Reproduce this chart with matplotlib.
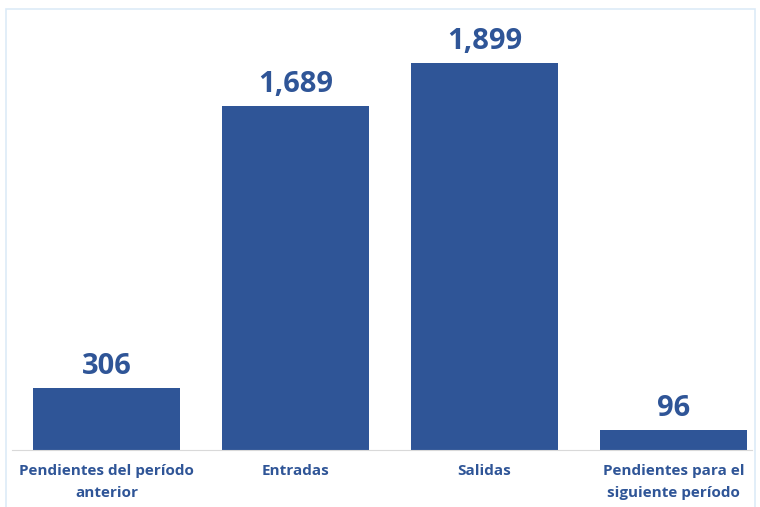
import matplotlib.pyplot as plt
from matplotlib.patches import Rectangle

# Datos
categorias = ["Pendientes del período\nanterior", "Entradas", "Salidas",
              "Pendientes para el\nsiguiente período"]
valores = [306, 1689, 1899, 96]

azul = "#2F5597"

fig = plt.figure(figsize=(7.6, 5.07), dpi=100)
W, H = 760, 507

# marco del gráfico (sin borde inferior visible)
fig.patches.append(Rectangle((6 / W, -0.05), 749 / W, (H - 9) / H + 0.05,
                             transform=fig.transFigure, fill=False,
                             edgecolor="#DDEBF7", linewidth=1.2))

ax = fig.add_axes([12 / W, (H - 450) / H, 740 / W, 441 / H])
x = range(len(valores))
ax.bar(x, valores, width=0.778, color=azul, zorder=2)
ax.set_xlim(-0.5, -0.5 + 740 / 189)
ax.set_ylim(0, 441 / (387 / 1899))

for xi, v in zip(x, valores):
    ax.annotate(f"{v:,}", (xi, v), xytext=(0, 5), textcoords="offset points",
                ha="center", va="bottom", fontsize=21, fontweight="bold",
                color=azul, family="Open Sans")

ax.set_xticks(list(x))
ax.set_xticklabels(categorias, fontsize=11, fontweight="bold", color=azul,
                   family="Open Sans", linespacing=1.75)
ax.tick_params(axis="x", length=0, pad=10)
ax.set_yticks([])
for s in ["left", "right", "top"]:
    ax.spines[s].set_visible(False)
ax.spines["bottom"].set_color("#D9D9D9")

plt.savefig("out.png", dpi=100)
